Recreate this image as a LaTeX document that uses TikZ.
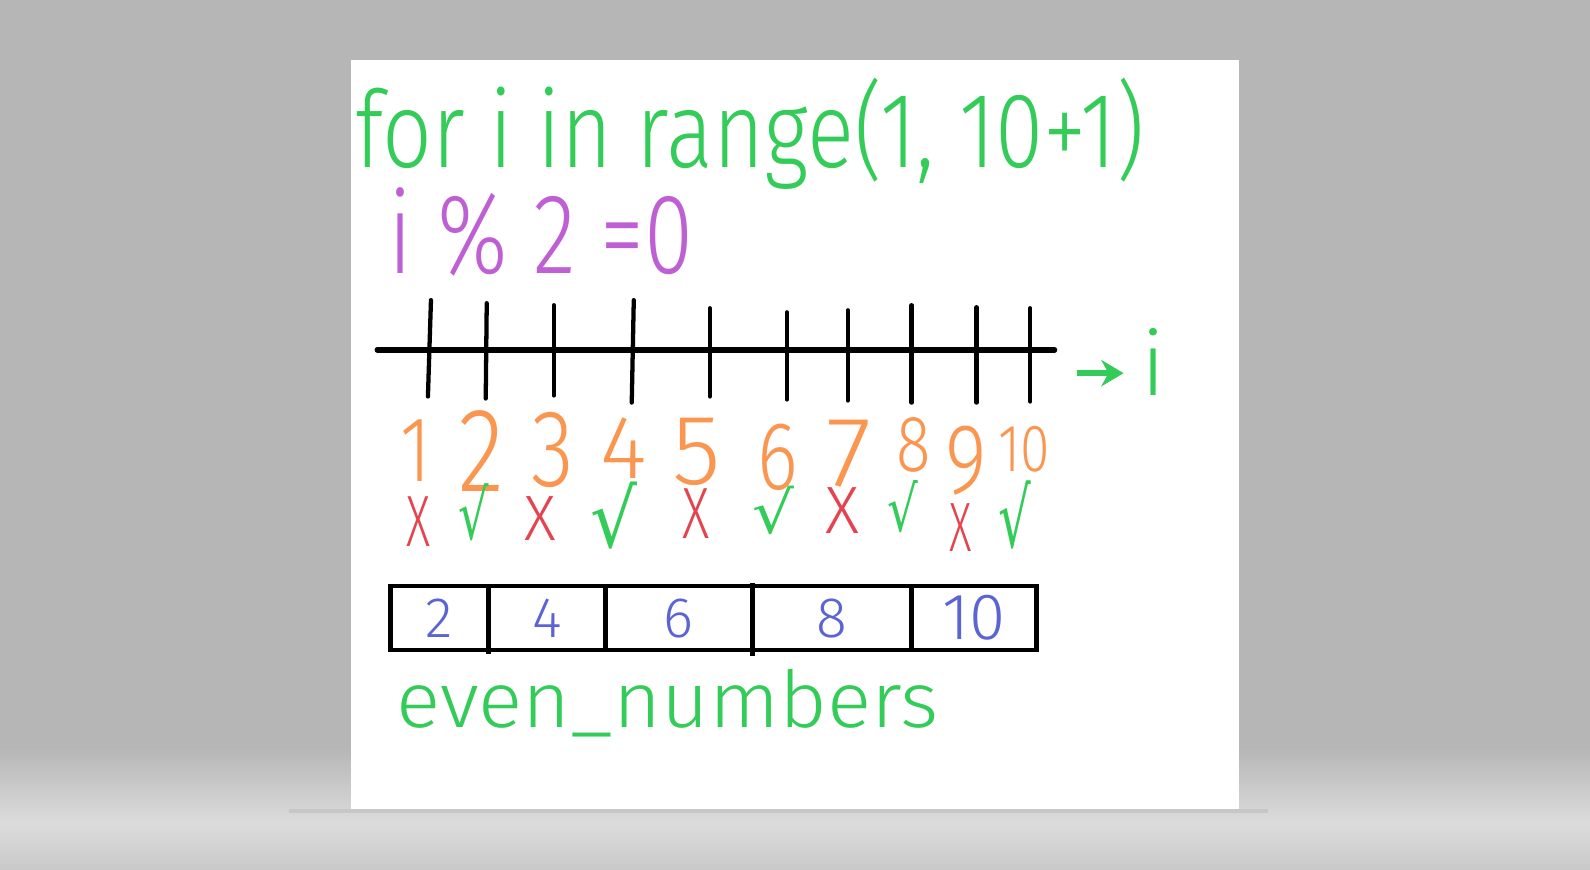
\documentclass[tikz,border=0pt]{standalone}
\usepackage{fontspec}
\setmainfont{Fira Sans Light}
\newfontfamily\checkfont{DejaVu Sans}
\usetikzlibrary{arrows.meta,positioning}

\definecolor{bggray}{RGB}{181,182,181}
\definecolor{bglight}{RGB}{219,220,219}
\definecolor{bgdark}{RGB}{200,201,200}
\definecolor{pengreen}{RGB}{52,204,88}
\definecolor{penpurple}{RGB}{190,96,212}
\definecolor{penorange}{RGB}{250,150,80}
\definecolor{penred}{RGB}{228,68,80}
\definecolor{penblue}{RGB}{92,100,212}

\begin{document}
\begin{tikzpicture}[>=Stealth,
  codeline/.style={inner sep=0pt, anchor=base west, text=pengreen,
    font=\fontsize{30}{36}\selectfont, xscale=0.818},
  condline/.style={inner sep=0pt, anchor=base west, text=penpurple,
    font=\fontsize{32}{38}\selectfont, xscale=0.78},
  idxnum/.style={inner sep=0pt, anchor=base, text=penorange,
    font=\fontsize{28}{34}\selectfont, xscale=0.8},
  nomark/.style={inner sep=0pt, anchor=base, text=penred,
    font=\fontsize{20}{24}\selectfont, xscale=0.7},
  okmark/.style={inner sep=0pt, anchor=south, text=pengreen,
    font=\checkfont\fontsize{21}{25}\selectfont, xscale=0.8},
  cell/.style={draw=black, line width=1.3pt, minimum height=0.63cm,
    inner sep=0pt, outer sep=0pt, text=penblue,
    font=\fontsize{16}{19}\selectfont},
  tickline/.style={line width=1.2pt, line cap=round},
]
  \useasboundingbox (0,0) rectangle (15.68,8.57);

  % --- Fondo y hoja ---
  \fill[bggray] (0,0) rectangle (15.68,8.57);
  \shade[top color=bggray, bottom color=bglight] (0,0.45) rectangle (15.68,1.20);
  \shade[top color=bglight, bottom color=bgdark] (0,0) rectangle (15.68,0.45);
  \fill[black!22] (2.85,0.555) rectangle (12.50,0.59);
  \fill[white] (3.46,0.59) rectangle (12.22,7.98);

  % --- Codigo ---
  \node[codeline] (loop) at (3.50,6.92) {for i in range(1, 10+1)};
  \node[condline] (cond) at (3.83,5.87) {i \% 2 =0};

  % --- Recta de indices ---
  \draw[line width=1.5pt, line cap=round] (3.72,5.12) -- (10.40,5.12);
  \foreach \x/\t/\b/\d in {4.22/5.61/4.66/0.03, 4.79/5.58/4.64/0.01,
      5.46/5.56/4.67/0, 6.23/5.61/4.60/0.02, 7.00/5.53/4.66/0,
      7.76/5.49/4.63/0, 8.36/5.51/4.62/0, 8.99/5.56/4.60/0,
      9.63/5.54/4.60/0, 10.16/5.53/4.61/0}
    \draw[tickline] (\x+\d,\t) -- (\x,\b);

  % --- Flecha hacia i ---
  \node[inner sep=0pt, anchor=base west, text=pengreen,
    font=\fontsize{25}{30}\selectfont] (ivar) at (11.25,4.67) {i};
  \coordinate (arrowtail) at (10.62,4.89);
  \draw[pengreen, line width=1.6pt, shorten >=0.17cm,
    arrows={-Stealth[length=2.2mm, width=2.6mm]}]
    (arrowtail) -- (arrowtail -| ivar.west);

  % --- Valores de i ---
  \foreach \n/\x/\y/\s/\w in {1/4.10/3.82/0.93/1, 2/4.75/3.72/1.2/1,
      3/5.45/3.77/1.1/1, 4/6.15/3.85/0.9/1.25, 5/6.87/3.79/1.0/1.25,
      6/7.67/3.74/0.97/1, 7/8.37/3.77/1.0/1.3, 8/9.01/3.92/0.8/1,
      9/9.53/3.70/1.0/1, 10/10.10/3.92/0.67/1}
    \node[idxnum, scale=\s, xscale=\w] (num\n) at (\x,\y) {\n};

  % --- Impares / pares ---
  \foreach \n/\x/\y/\s/\w in {1/4.13/3.18/1.02/0.92, 3/5.33/3.24/0.90/1.37,
      5/6.86/3.26/1.02/1.04, 7/8.31/3.31/0.94/1.41, 9/9.47/3.13/0.98/0.89}
    \node[nomark, scale=\s, xscale=\w] (mark\n) at (\x,\y) {X};
  \foreach \n/\x/\y/\s/\w in {2/4.67/3.23/0.92/0.87, 4/6.05/3.15/1.08/1.14,
      6/7.63/3.29/0.78/1.41, 8/8.90/3.31/0.84/0.96, 10/10.01/3.15/1.10/0.78}
    \node[okmark, scale=\s, xscale=\w] (mark\n) at (\x,\y) {√};

  % --- Lista resultado ---
  \node[cell, minimum width=0.97cm, anchor=west] (c1) at (3.85,2.475) {2};
  \node[cell, minimum width=1.15cm, right=0pt of c1] (c2) {4};
  \node[cell, minimum width=1.45cm, right=0pt of c2] (c3) {6};
  \node[cell, minimum width=1.57cm, right=0pt of c3] (c4) {8};
  \node[cell, minimum width=1.23cm, right=0pt of c4] (c5) {\scalebox{1.15}{10}};
  \draw[line width=1.3pt] ([yshift=0.3mm]c3.north east) -- ([yshift=-0.6mm]c3.south east);
  \draw[line width=1.3pt] (c1.south east) -- ([yshift=-0.4mm]c1.south east);

  \node[inner sep=0pt, anchor=base west, text=pengreen, xscale=1.05,
    font=\fontsize{22}{26}\selectfont] (evens) at (3.90,1.40) {even\_numbers};

\end{tikzpicture}
\end{document}
